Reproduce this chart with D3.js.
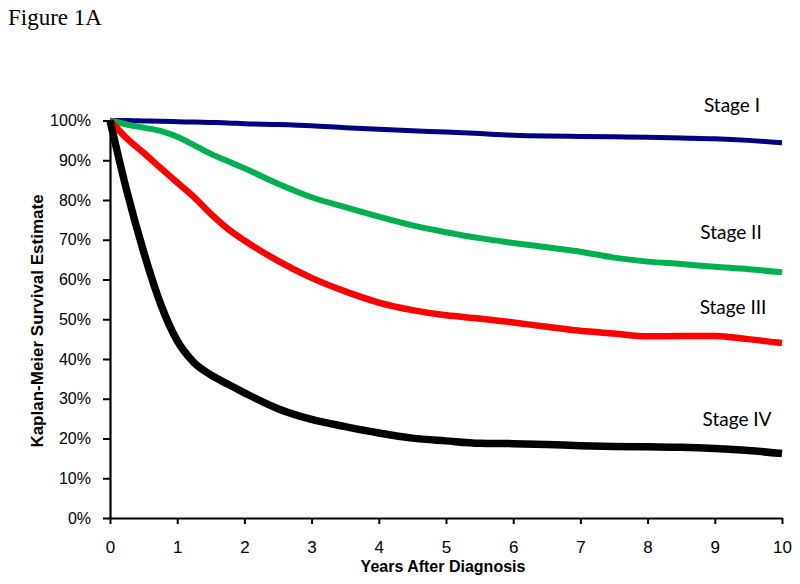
<!DOCTYPE html>
<html>
<head>
<meta charset="utf-8">
<script src="https://cdn.jsdelivr.net/npm/d3@7"></script>
<style>
  html, body { margin: 0; padding: 0; background: #fff; }
  svg { display: block; }
</style>
</head>
<body>
<svg id="chart" width="800" height="584"></svg>
<script>
const years = [0, 0.25, 0.5, 0.75, 1, 1.25, 1.5, 1.75, 2, 2.5, 3, 3.5, 4, 4.5, 5, 5.5, 6, 6.5, 7, 7.5, 8, 8.5, 9, 9.5, 10];
const stageI   = [100, 100, 99.9, 99.8, 99.7, 99.6, 99.5, 99.4, 99.2, 99.0, 98.7, 98.2, 97.8, 97.4, 97.1, 96.7, 96.3, 96.1, 96.0, 95.9, 95.8, 95.6, 95.4, 95.0, 94.4];
const stageII  = [100, 99.0, 98.2, 97.4, 95.9, 93.8, 91.6, 89.8, 88.0, 84.1, 80.7, 78.2, 75.8, 73.6, 71.9, 70.4, 69.2, 68.1, 67.0, 65.5, 64.5, 63.9, 63.2, 62.6, 61.8];
const stageIII = [100, 95.5, 91.9, 88.1, 84.4, 80.7, 76.5, 72.8, 69.8, 64.7, 60.4, 57.0, 54.2, 52.3, 51.0, 50.2, 49.2, 48.1, 47.1, 46.4, 45.7, 45.8, 45.8, 45.0, 44.0];
const stageIV  = [100, 82.3, 67.0, 54.0, 44.6, 39.1, 36.0, 33.7, 31.5, 27.5, 24.8, 23.0, 21.4, 20.1, 19.4, 18.8, 18.7, 18.5, 18.2, 18.0, 17.9, 17.8, 17.5, 17.0, 16.2];
const seriesNames = ["Stage I", "Stage II", "Stage III", "Stage IV"];
const xTicks = [0, 1, 2, 3, 4, 5, 6, 7, 8, 9, 10];
const yTicks = [0, 10, 20, 30, 40, 50, 60, 70, 80, 90, 100];

const svg = d3.select("#chart");
const x = d3.scaleLinear().domain([0, 10]).range([110, 782]);
const y = d3.scaleLinear().domain([0, 100]).range([518, 120.5]);

// Figure label
svg.append("text").attr("x", 8).attr("y", 25)
  .attr("font-family", "Liberation Serif, Times New Roman, serif")
  .attr("font-size", 23).attr("fill", "#000").text("Figure 1A");

// Axes
const yAxis = svg.append("g").attr("transform", "translate(110,0)")
  .call(d3.axisLeft(y).tickValues(yTicks).tickFormat(d => d + "%").tickSize(7).tickSizeOuter(0).tickPadding(12));
const xAxis = svg.append("g").attr("transform", "translate(0,518)")
  .call(d3.axisBottom(x).tickValues(xTicks).tickFormat(d3.format("d")).tickSize(6).tickSizeOuter(0).tickPadding(16.5));
[yAxis, xAxis].forEach(g => {
  g.select(".domain").attr("stroke", "#000").attr("stroke-width", 2.2);
  g.selectAll(".tick line").attr("stroke", "#000").attr("stroke-width", 2);
  g.selectAll(".tick text").attr("fill", "#000")
    .attr("font-family", "Liberation Sans, Arial, sans-serif");
});
yAxis.selectAll(".tick text").attr("font-size", 16);
xAxis.selectAll(".tick text").attr("font-size", 17);

// Axis titles
svg.append("text").attr("x", 443).attr("y", 572).attr("text-anchor", "middle")
  .attr("font-family", "Liberation Sans, Arial, sans-serif").attr("font-weight", "bold")
  .attr("font-size", 16).attr("fill", "#000").text("Years After Diagnosis");
svg.append("text").attr("transform", "translate(43,321) rotate(-90)").attr("text-anchor", "middle")
  .attr("font-family", "Liberation Sans, Arial, sans-serif").attr("font-weight", "bold")
  .attr("font-size", 17).attr("fill", "#000").text("Kaplan-Meier Survival Estimate");

// Lines
const series = [
  { name: seriesNames[0], values: stageI,   color: "#000080", width: 5,   lx: 732, ly: 112 },
  { name: seriesNames[1], values: stageII,  color: "#00B050", width: 6,   lx: 731, ly: 239 },
  { name: seriesNames[2], values: stageIII, color: "#FF0000", width: 6.5, lx: 733, ly: 314 },
  { name: seriesNames[3], values: stageIV,  color: "#000000", width: 7.5, lx: 737, ly: 426 }
];
const line = d3.line().x((d, i) => x(years[i])).y(d => y(d)).curve(d3.curveMonotoneX);
series.forEach(s => {
  svg.append("path").datum(s.values).attr("d", line)
    .attr("fill", "none").attr("stroke", s.color).attr("stroke-width", s.width)
    .attr("stroke-linejoin", "round").attr("stroke-linecap", "butt");
  svg.append("text").attr("x", s.lx).attr("y", s.ly).attr("text-anchor", "middle")
    .attr("font-family", "Lato, Open Sans, sans-serif").attr("font-size", 19)
    .attr("fill", "#000").text(s.name);
});
</script>
</body>
</html>
